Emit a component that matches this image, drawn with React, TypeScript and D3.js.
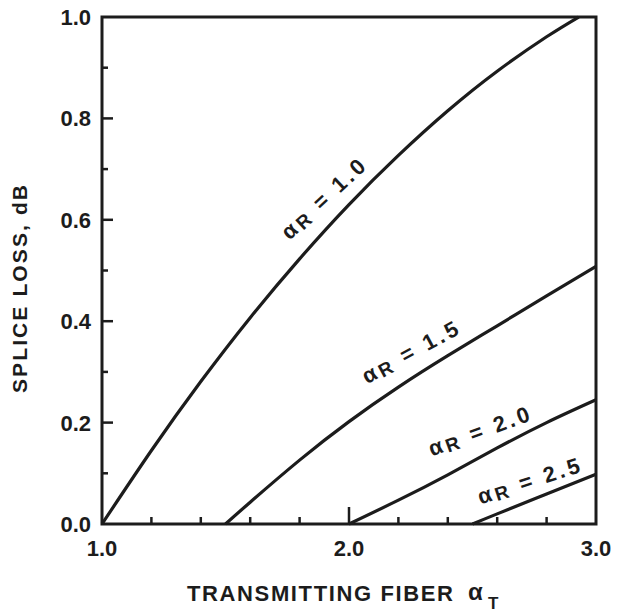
import React from "react";
import * as d3 from "d3";

// Splice loss (dB) versus transmitting-fiber profile parameter alphaT,
// one curve per receiving-fiber profile parameter alphaR.
const alphaR = [1.0, 1.5, 2.0, 2.5];

const curveR10: [number, number][] = [
  [1.0, 0], [1.2, 0.145], [1.4, 0.281], [1.6, 0.407], [1.8, 0.523],
  [2.0, 0.63], [2.2, 0.727], [2.4, 0.815], [2.6, 0.893], [2.8, 0.961], [2.93, 1.0],
];
const curveR15: [number, number][] = [
  [1.5, 0], [1.6, 0.043], [1.8, 0.126], [2.0, 0.202], [2.2, 0.27],
  [2.4, 0.332], [2.6, 0.391], [2.8, 0.45], [3.0, 0.508],
];
const curveR20: [number, number][] = [
  [2.0, 0], [2.2, 0.047], [2.4, 0.097], [2.6, 0.15], [2.8, 0.2], [3.0, 0.245],
];
const curveR25: [number, number][] = [
  [2.5, 0], [2.6, 0.02], [2.8, 0.059], [3.0, 0.098],
];
const curves = [curveR10, curveR15, curveR20, curveR25];

const xTickLabels = [1.0, 2.0, 3.0];
const xMinorTicks = [1.2, 1.4, 1.6, 1.8, 2.0, 2.2, 2.4, 2.6, 2.8];
const yTickLabels = [0.0, 0.2, 0.4, 0.6, 0.8, 1.0];
const yMinorTicks = [0.1, 0.2, 0.3, 0.4, 0.5, 0.6, 0.7, 0.8, 0.9];

// curve label anchors (alphaT, loss) and their text angle
const labelAnchors: [number, number][] = [
  [1.895, 0.641], [2.247, 0.339], [2.526, 0.183], [2.727, 0.085],
];
const labelAngles = [-43, -28.5, -20, -18];

const INK = "#1c1c1c";
const FONT = "'Liberation Sans', Arial, sans-serif";

export default function App() {
  const W = 622;
  const H = 612;
  const x = d3.scaleLinear().domain([1, 3]).range([102, 596]);
  const y = d3.scaleLinear().domain([0, 1]).range([524, 17]);

  const line = d3
    .line<[number, number]>()
    .x((d) => x(d[0]))
    .y((d) => y(d[1]))
    .curve(d3.curveNatural);

  return (
    <svg
      width={W}
      height={H}
      style={{ position: "absolute", left: 0, top: 0, background: "#fff" }}
      fontFamily={FONT}
    >
      <rect x={0} y={0} width={W} height={H} fill="#fff" />

      {/* curves */}
      {curves.map((c, i) => (
        <path
          key={"c" + i}
          d={line(c) || ""}
          fill="none"
          stroke={INK}
          strokeWidth={3.2}
          strokeLinejoin="round"
        />
      ))}

      {/* frame */}
      <rect
        x={x(1)}
        y={y(1)}
        width={x(3) - x(1)}
        height={y(0) - y(1)}
        fill="none"
        stroke={INK}
        strokeWidth={3}
      />

      {/* x ticks (inward) */}
      {xMinorTicks.map((t) => (
        <line
          key={"xt" + t}
          x1={x(t)}
          x2={x(t)}
          y1={y(0)}
          y2={y(0) - (t === 2.0 ? 17 : 7)}
          stroke={INK}
          strokeWidth={2.5}
        />
      ))}

      {/* y ticks (inward) */}
      {yMinorTicks.map((t, i) => (
        <line
          key={"yt" + t}
          x1={x(1)}
          x2={x(1) + (i % 2 === 1 ? 11 : 6)}
          y1={y(t)}
          y2={y(t)}
          stroke={INK}
          strokeWidth={2.5}
        />
      ))}

      {/* y tick labels */}
      {yTickLabels.map((t) => (
        <text
          key={"yl" + t}
          x={91}
          y={y(t)}
          dy="0.36em"
          textAnchor="end"
          fontSize={22}
          fontWeight="bold"
          fill={INK}
        >
          {t.toFixed(1)}
        </text>
      ))}

      {/* x tick labels */}
      {xTickLabels.map((t) => (
        <text
          key={"xl" + t}
          x={x(t)}
          y={556}
          textAnchor="middle"
          fontSize={22}
          fontWeight="bold"
          fill={INK}
        >
          {t.toFixed(1)}
        </text>
      ))}

      {/* curve labels */}
      {alphaR.map((a, i) => {
        const [lx, ly] = labelAnchors[i];
        return (
          <g
            key={"lab" + a}
            transform={`translate(${x(lx)},${y(ly)}) rotate(${labelAngles[i]})`}
          >
            <text
              x={0}
              y={0}
              dy="0.35em"
              textAnchor="middle"
              fontSize={22}
              fontWeight="bold"
              fill={INK}
              textLength={106}
              lengthAdjust="spacing"
            >
              α
              <tspan fontSize={19} dy={2}>
                R
              </tspan>
              <tspan dy={-2}>{" = " + a.toFixed(1)}</tspan>
            </text>
          </g>
        );
      })}

      {/* axis titles */}
      <text
        transform="translate(27,289) rotate(-90)"
        textAnchor="middle"
        fontSize={21}
        fontWeight="bold"
        fill={INK}
        textLength={208}
        lengthAdjust="spacing"
      >
        SPLICE LOSS, dB
      </text>
      <text
        x={187}
        y={601}
        fontSize={22}
        fontWeight="bold"
        fill={INK}
        textLength={266}
        lengthAdjust="spacing"
      >
        TRANSMITTING FIBER
      </text>
      <text x={468} y={600} fontSize={24} fontWeight="bold" fill={INK}>
        α
      </text>
      <text x={488} y={609} fontSize={17} fontWeight="bold" fill={INK}>
        T
      </text>
    </svg>
  );
}
